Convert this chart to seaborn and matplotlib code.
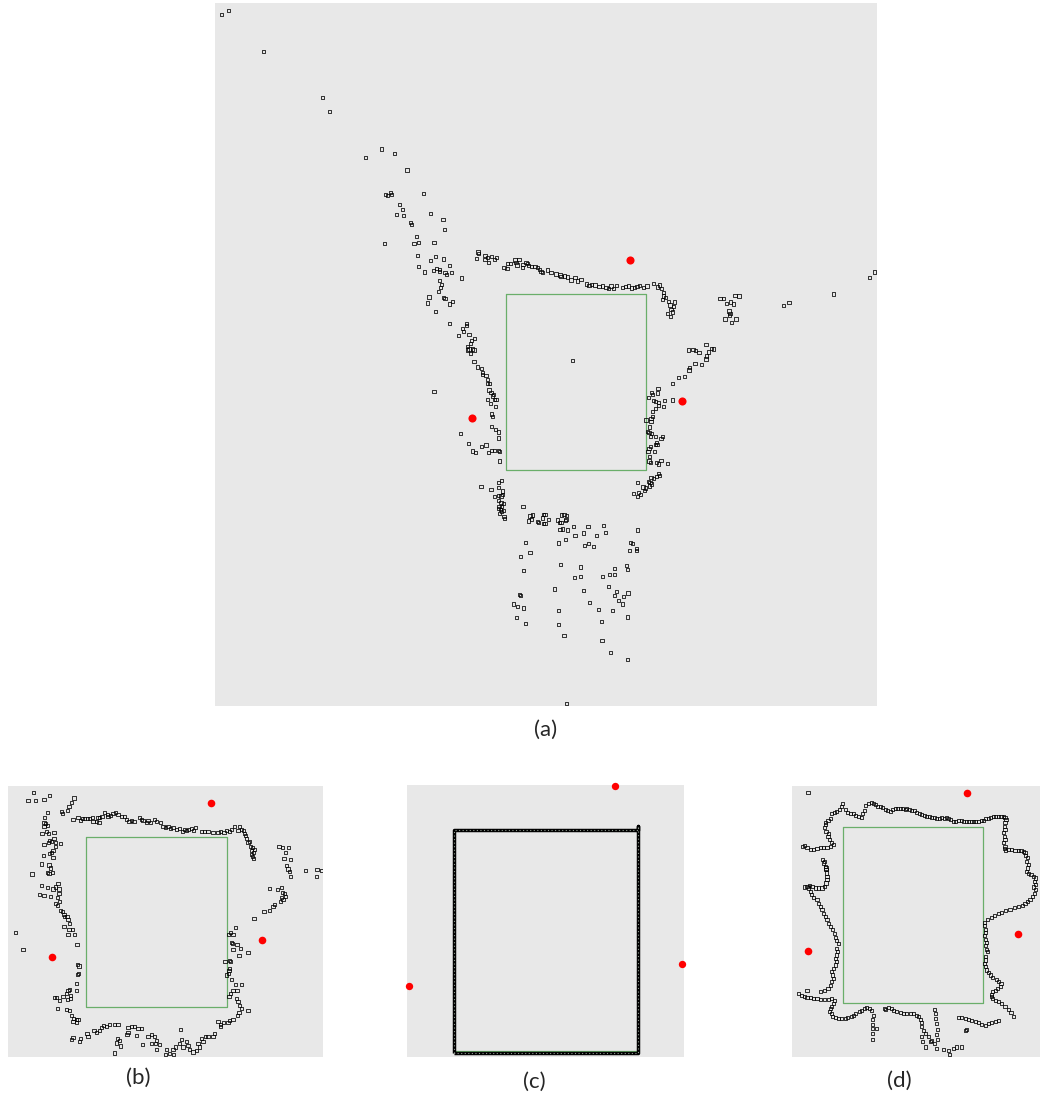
import numpy as np
import pandas as pd
import matplotlib
matplotlib.use("Agg")
import matplotlib.pyplot as plt
import seaborn as sns

sns.set_style("white")
plt.rcParams["font.family"] = ["Lato", "DejaVu Sans"]

# ---------------- map (a): laser returns, landmarks, robot footprint ----------------
a_arm = [(221.7, 14.7), (228.3, 10.3), (263.3, 51.3), (322.3, 97.3), (329.3, 111.3), (381.7, 149), (394.3, 153.3),
         (365.3, 157.3), (407, 170), (385.7, 194.3), (387.7, 195.3), (390.3, 192.7), (391.7, 194.7), (423.3, 193.3),
         (399.3, 204.3), (402.3, 209.3), (396.3, 214.3), (403.3, 215.3), (430.3, 213.3), (443, 219.3), (410.3, 222.7),
         (411.3, 224.3), (444.3, 229.3), (416.7, 236.7), (414, 243.3), (418.3, 242.7), (434, 242.3), (384.3, 243.7),
         (417.3, 255.7), (435.7, 256.3), (430.3, 260.3), (443.3, 259), (418.3, 266.7), (424.3, 272), (433.3, 270.3),
         (436.7, 268.3), (439.3, 269.3), (439.3, 271.7), (445, 272.3), (446.3, 274.7), (449.3, 265.3), (451.3, 272.3),
         (461.3, 278), (439.3, 280.3), (441.3, 284.3), (440.3, 287.3), (438.3, 291.3), (429, 297), (443.7, 297.7),
         (445, 298.3), (427.3, 303), (452.3, 301.7), (449.7, 304), (435.7, 311.3), (449.3, 323.3), (466.3, 323.3),
         (466.3, 325.3), (462.3, 328.3), (463.3, 331.7), (458.3, 335.3), (469, 334.3), (474.3, 338.3), (471.7, 340.7),
         (470.3, 343.3), (467.3, 346.7), (469, 349), (472.3, 349)]
a_top = [(478, 252), (478.3, 253.3), (476.3, 258.7), (485, 255.3), (487.7, 257.3), (485, 259.7), (488.3, 262.7),
         (491.7, 256.7), (494.3, 259.3), (496.7, 257.7), (504, 267.3), (507, 268.7), (507.3, 263.3), (510.3, 263.3),
         (515, 260), (516, 262.3), (517, 265), (519, 259.7), (522.3, 267.7), (523, 264.3), (526, 262.3), (527.3, 263.3),
         (528.3, 265.7), (531.7, 266.7), (535, 266.7), (537.7, 267.3), (539.3, 269.3), (541, 271.7), (542.7, 272.7),
         (547.3, 270), (551, 272.7), (556, 274), (560, 275), (561, 276.7), (564.3, 276), (567.3, 277), (571, 280),
         (575, 277.3), (577.3, 281), (581, 279.3), (586.7, 284), (589, 285.7), (591.7, 284.3), (595, 285), (599, 286.7),
         (602.3, 286), (606, 287.3), (608.3, 288.7), (611, 286), (613.3, 288.7), (616.7, 285.3), (622.3, 287.3),
         (625.7, 286.3), (628.3, 286), (631.7, 288), (634.3, 287.3), (637, 286.7), (639.3, 285.7), (643.3, 287.3),
         (647, 286), (653.3, 283.3), (657.7, 287), (659.7, 285), (661.7, 288.3), (663.7, 292.7), (663.3, 296),
         (662.3, 299.3), (665.7, 297.3), (668.3, 301.7), (670, 305), (674.3, 302), (673.7, 306.7), (671, 309.3),
         (672.7, 312), (667.7, 313.3), (670.7, 316.7)]
a_east = [(720, 298.3), (723.3, 298.3), (735, 295.3), (739, 296), (726.7, 303.3), (730.3, 302), (733.3, 304),
          (729, 311), (730, 313.3), (729.3, 315.3), (725, 319), (736, 319), (731.7, 322.7), (783.3, 305.7),
          (789, 302.3), (833.7, 294), (869.3, 277.3), (874.3, 272), (688.3, 350), (693, 349.3), (706, 344.3),
          (711.7, 348.3), (713.3, 349), (695.3, 350.7), (699, 352.3), (708.3, 352), (706.7, 356), (706, 359),
          (701.3, 364.3), (695, 363.3), (689.3, 367.3), (689, 370), (684.3, 376.3), (678.7, 377.3), (672.3, 383.7)]
a_right = [(658, 388.7), (657.3, 393), (651.3, 392.3), (652.3, 394.7), (648.3, 397.3), (653.3, 400.7), (655.7, 401.7),
           (658.3, 402.7), (658.3, 405.3), (664.3, 400.3), (672.3, 400), (663.3, 406.7), (655.3, 408.7), (652.7, 411.3),
           (652.3, 416.7), (651, 418.7), (646, 420), (651, 421.7), (649.3, 427), (647.3, 431.3), (649, 432.7),
           (651.3, 433.3), (650.3, 436.7), (655.7, 436.3), (661, 438.3), (662.3, 436.3), (656.3, 442.3), (655.3, 444.3),
           (657, 444.3), (650.7, 446.7), (649, 448.7), (648, 451.3), (654.3, 451.3), (649.3, 456.3), (649, 461),
           (650.3, 462.3), (656.3, 462.7), (658.3, 464), (661, 460.3), (667.3, 463.7), (658.3, 473.3), (659.3, 475.3),
           (656.7, 476.7), (651, 477.3), (653.3, 478.7), (648.3, 481.3), (650, 482.3), (651.7, 484), (649.3, 486),
           (637.3, 482.3), (643, 487), (645.7, 488), (644.3, 490.3), (638.3, 492.3), (640.7, 494.3), (633.3, 493.7),
           (637.7, 496.3)]
a_left = [(467.3, 350), (470.3, 353.3), (474, 350), (474, 361.3), (477.3, 367), (481.7, 368.7), (482.3, 372.7),
          (482.3, 374.3), (486, 375.7), (487.3, 379.7), (487.7, 383.3), (489.3, 383.3), (489, 390), (491, 392.3),
          (493.3, 394.3), (492.7, 396), (494.3, 399.3), (496, 399.3), (487.3, 399.3), (490.3, 403.7), (495.3, 406.7),
          (434, 391.7), (491.7, 414), (492.3, 416.7), (491.3, 426.3), (495.3, 429.7), (498.3, 432), (498.3, 438),
          (460.7, 433.3), (468.7, 443.7), (486, 445), (481.3, 446.3), (472.7, 451), (475.7, 452.3), (488.3, 452.3),
          (491.7, 450.3), (494.3, 450.3), (498.3, 450.3), (499.7, 451.3), (499.3, 461), (501.3, 480.3), (498.3, 482.7),
          (481, 486.3), (498.3, 487.3), (491, 489.7), (502.3, 491), (502.3, 494.3), (498.3, 495.3), (501, 496),
          (494.3, 496.3), (498.7, 500.7), (501, 502.3), (503.7, 503.3), (499, 506.7), (501.7, 506.7), (498.3, 508.7),
          (500.3, 509.3), (503.3, 510.7), (501.7, 511.7), (499.3, 513.3), (504, 516.7), (504.7, 518.3)]
a_south = [(523, 506.3), (530, 516), (532.7, 515), (531.7, 519), (528.7, 521), (537.3, 521.3), (538.3, 522.7),
           (542.7, 518), (543.7, 514.3), (543.3, 523.3), (525.3, 542.7), (530, 552.3), (520.7, 556.3), (523.3, 570.3),
           (519.3, 594.7), (520.7, 595.3), (513.7, 604), (517.3, 606.3), (523.3, 608), (516.3, 617.3), (525.3, 623.3),
           (545, 514.3), (545, 523.3), (548.3, 519.7), (561.3, 515), (564, 514.3), (566.7, 515.3), (557.3, 520),
           (559.3, 522.3), (561, 522.3), (566, 519.3), (565.3, 520.7), (560, 529.3), (562.3, 529), (567.3, 530),
           (573.3, 526.3), (588, 526.3), (603.3, 525.3), (583.3, 533), (575, 535.7), (596.7, 535.3), (605.3, 532.3),
           (637.7, 530), (558.3, 543), (565.3, 539.3), (584.3, 545.3), (588.3, 543.3), (593.3, 546.3), (630.3, 542.7),
           (632.3, 543.7), (629.3, 550.3), (636.3, 548.7), (636.3, 550.7), (560.3, 564.3), (580.3, 567), (626.7, 565.3),
           (627.3, 569.3), (614.3, 568.7), (574.3, 577.3), (580.3, 576.3), (602.3, 576.3), (609.3, 574.3),
           (614.3, 574.3), (554.3, 589), (583.3, 590.3), (608.3, 586.3), (616.3, 591.7), (614.3, 595.3), (623.3, 596.7),
           (628, 593), (618.3, 600.3), (622.3, 604), (589.3, 602.3), (598.3, 609.3), (612.3, 610.3), (558.3, 610.7),
           (627.3, 617), (601.3, 621.7), (558.3, 624.3), (564, 635.3), (602, 640.7), (610.3, 652.3), (627.3, 659.3),
           (566.7, 703.3), (572.3, 360.3)]
a_landmarks = [(630.3, 260.3), (681.7, 401), (471.7, 418.3)]
a_robot = [(506, 294), (646, 294), (646, 470), (506, 470), (506, 294)]

# ---------------- map (b) ----------------
b_scan = [(101, 40), (85, 63), (108, 64), (133, 60), (150, 48), (223, 56), (215, 68), (208, 80), (203, 92), (185, 96),
          (188, 103), (143, 98), (135, 115), (133, 130), (138, 133), (143, 137), (133, 140), (140, 155), (127, 162),
          (147, 163), (163, 160), (150, 183), (147, 188), (155, 185), (163, 178), (133, 195), (167, 190), (182, 193),
          (168, 200), (160, 212), (155, 218), (150, 222), (132, 228), (160, 233), (125, 253), (148, 256), (153, 265),
          (143, 278), (148, 282), (158, 278), (97, 283), (175, 312), (125, 318), (143, 323), (160, 328), (168, 322),
          (178, 328), (120, 343), (133, 347), (153, 349), (178, 340), (173, 352), (180, 365), (168, 370), (173, 378),
          (182, 392), (188, 395), (193, 405), (195, 410), (202, 410), (205, 418), (210, 430), (193, 440), (208, 448),
          (218, 450), (225, 465), (205, 465), (232, 493), (47, 458), (70, 508), (233, 553), (238, 558), (237, 580),
          (233, 583), (230, 610), (230, 632), (210, 628), (205, 632), (200, 640), (213, 645), (190, 648), (213, 655),
          (165, 651), (170, 652), (180, 662), (203, 657), (173, 686), (200, 687), (210, 690), (215, 707), (222, 715),
          (230, 718), (220, 725), (230, 728), (235, 718),
          (220, 120), (235, 113), (243, 122), (248, 118), (255, 117), (263, 117), (270, 118), (278, 113), (280, 125),
          (290, 127), (298, 128), (295, 115), (300, 113), (307, 110), (315, 100), (323, 105), (325, 112), (333, 108),
          (340, 103), (348, 100), (355, 104), (365, 110), (375, 112), (380, 120), (388, 125), (395, 122), (403, 127),
          (420, 115), (425, 120), (430, 123), (440, 128), (445, 122), (453, 128), (465, 120), (470, 125), (483, 130),
          (490, 140), (497, 143), (505, 142), (512, 148), (520, 143), (530, 150), (540, 148), (548, 155), (555, 150),
          (560, 153), (567, 150), (575, 148), (582, 152), (587, 145), (605, 157), (615, 155), (625, 155), (640, 158),
          (655, 160), (663, 155), (673, 158), (680, 153), (690, 157), (695, 150), (705, 140), (715, 152), (720, 140),
          (725, 150), (732, 153), (735, 163), (738, 168), (740, 178), (745, 188), (750, 185), (752, 200), (758, 205),
          (755, 212), (762, 218), (755, 225), (758, 232), (762, 238), (765, 210),
          (838, 200), (848, 203), (866, 205), (858, 220), (853, 238), (873, 240), (860, 258), (865, 268), (870, 275),
          (873, 290), (918, 272), (952, 270), (965, 273), (950, 290), (810, 327), (833, 330), (846, 324), (848, 338),
          (855, 340), (858, 350), (846, 352), (850, 358), (843, 365), (825, 375), (820, 380), (810, 393), (793, 395),
          (763, 415),
          (708, 443), (693, 458), (686, 463), (700, 465), (695, 488), (698, 492), (712, 495), (722, 505), (700, 510),
          (745, 517), (718, 527), (690, 542), (676, 545), (693, 545), (690, 565), (688, 572), (686, 580), (680, 585),
          (695, 598), (708, 612), (725, 612), (700, 630), (712, 632), (692, 640), (688, 648), (710, 655), (715, 665),
          (720, 675), (725, 684), (745, 692), (718, 696), (713, 705), (700, 717), (690, 722), (685, 727), (672, 727),
          (663, 733), (655, 724), (662, 740), (645, 760), (640, 768), (625, 768), (618, 770), (605, 775), (610, 785),
          (595, 790), (600, 800), (590, 810), (580, 815), (570, 808), (565, 795), (560, 785), (545, 778), (540, 790),
          (550, 800), (527, 800), (520, 808), (500, 808), (510, 820), (522, 823), (498, 823), (480, 793), (470, 780),
          (465, 770), (455, 762), (445, 770), (455, 790), (428, 793), (410, 765), (415, 745), (425, 745), (405, 738),
          (395, 738), (385, 742), (385, 758), (382, 763), (360, 782), (350, 788), (353, 775), (345, 818), (362, 797),
          (300, 750), (305, 742), (312, 735), (320, 738), (330, 733), (345, 733), (355, 733), (290, 757), (283, 752),
          (262, 760), (265, 768), (242, 775), (240, 783), (220, 772), (215, 778), (543, 748), (470, 808), (468, 790)]
b_landmarks = [(634, 72), (788, 481), (157, 531)]
b_robot = [(260, 173), (681, 173), (681, 682), (260, 682), (260, 173)]

# ---------------- map (c) ----------------
c_scan = [(162, 818), (162, 155), (713, 155), (713, 143), (713, 818), (162, 818)]
c_landmarks = [(646, 22), (845, 552), (27, 619)]
c_robot = [(162, 155), (713, 155), (713, 812), (162, 812), (162, 155)]

# ---------------- map (d) ----------------
d_scan = [(68, 40), (120, 128), (128, 122), (135, 118), (140, 102), (148, 98), (155, 95), (163, 90), (168, 80),
          (172, 73), (180, 90), (188, 98), (195, 103), (205, 103), (212, 107), (220, 110), (228, 113), (232, 103),
          (238, 92), (242, 78), (250, 72), (258, 70), (265, 72), (270, 75), (278, 82), (287, 80), (293, 85), (300, 90),
          (308, 93), (315, 97), (322, 90), (330, 88), (338, 87), (345, 87), (352, 88), (360, 90), (365, 87), (372, 90),
          (380, 93), (388, 93), (395, 100), (402, 103), (410, 105), (418, 107), (425, 110), (432, 112), (440, 115),
          (448, 115), (455, 117), (463, 118), (470, 115), (478, 117), (485, 113), (490, 118), (497, 120), (505, 125),
          (512, 125), (520, 122), (528, 123), (535, 125), (543, 125), (550, 125), (558, 127), (565, 127), (572, 125),
          (580, 125), (588, 123), (595, 122), (602, 117), (610, 117), (617, 115), (625, 112), (632, 112), (640, 110),
          (648, 110), (655, 110), (660, 113), (663, 120), (660, 130), (658, 140), (660, 150), (655, 160), (658, 170),
          (660, 180), (655, 190), (660, 200), (658, 208), (662, 213), (670, 210), (680, 210), (690, 212), (700, 212),
          (708, 212), (715, 215), (720, 220), (722, 228), (728, 235), (725, 245), (730, 255), (728, 265), (725, 275),
          (730, 282), (738, 285), (745, 290), (752, 295), (748, 305), (752, 315), (745, 322), (752, 330), (748, 340),
          (742, 350), (735, 358), (728, 365), (720, 370), (712, 378), (700, 380), (688, 383), (675, 388), (662, 392),
          (650, 397), (640, 402), (628, 407), (618, 412), (607, 420), (598, 428), (598, 438), (600, 448), (602, 458),
          (598, 468), (600, 478), (603, 488), (600, 498), (605, 508), (608, 515), (600, 530), (602, 540), (598, 550),
          (600, 560), (605, 570), (610, 578), (615, 585), (622, 593), (635, 598), (640, 605), (648, 610), (645, 620),
          (638, 625), (630, 630), (622, 635), (618, 642), (620, 650), (622, 655), (630, 660), (640, 665), (650, 670),
          (660, 678), (670, 688), (678, 698), (685, 710),
          (520, 712), (530, 713), (540, 715), (550, 718), (560, 720), (570, 725), (580, 728), (590, 732), (600, 735),
          (610, 730), (620, 728), (630, 725), (640, 722), (545, 748), (540, 752),
          (448, 688), (450, 700), (452, 715), (455, 730), (458, 748), (455, 762), (458, 778), (448, 790), (440, 780),
          (430, 770), (420, 760), (415, 752), (410, 740), (408, 728), (405, 718), (400, 710), (393, 705), (385, 700),
          (375, 700), (365, 700), (355, 700), (345, 698), (335, 695), (325, 690), (318, 685), (310, 683), (302, 688),
          (298, 685), (410, 770), (412, 785), (420, 800), (435, 785), (455, 805), (475, 808), (490, 810), (492, 822),
          (505, 805), (515, 800), (528, 800),
          (265, 705), (263, 718), (262, 732), (262, 745), (262, 760), (262, 778), (275, 745),
          (260, 690), (252, 685), (245, 683), (238, 685), (230, 690), (222, 695), (212, 700), (205, 705), (198, 710),
          (188, 712), (180, 715), (170, 715), (160, 715), (150, 712), (142, 708), (138, 700), (132, 695), (135, 685),
          (140, 678), (145, 670), (148, 660), (140, 655), (130, 658), (118, 658), (105, 658), (95, 655), (85, 655),
          (75, 652), (65, 652), (58, 648), (48, 645), (40, 640),
          (65, 630), (105, 635), (118, 632), (128, 625), (135, 615), (140, 605), (145, 595), (142, 585), (140, 575),
          (145, 565), (150, 555), (155, 545), (152, 535), (155, 525), (158, 515), (155, 505), (160, 492), (155, 482),
          (150, 472), (148, 460), (142, 450), (135, 440), (130, 432), (125, 420), (120, 410), (115, 400), (110, 390),
          (105, 380), (100, 370), (95, 360), (85, 352), (78, 345), (75, 335), (70, 325), (65, 320), (58, 322),
          (72, 318), (80, 320), (90, 325), (100, 325), (110, 325), (118, 320), (122, 310), (125, 300), (125, 290),
          (123, 280), (122, 270), (120, 260), (115, 250), (112, 240), (118, 245), (122, 265),
          (52, 200), (58, 198), (65, 205), (75, 210), (85, 210), (95, 207), (105, 205), (115, 205), (125, 203),
          (135, 200), (145, 195), (140, 188), (133, 180), (128, 172), (130, 162), (122, 155), (118, 145), (120, 135)]
d_landmarks = [(545, 40), (698, 463), (68, 513)]
d_robot = [(173, 143), (593, 143), (593, 670), (173, 670), (173, 143)]

BG = "#e8e8e8"
GREEN = "#6aae6a"
W, H = 1040, 1099

fig = plt.figure(figsize=(W / 100, H / 100), dpi=100)


def frame(px_left, px_top, px_right, px_bottom):
    ax = fig.add_axes([px_left / W, 1 - px_bottom / H, (px_right - px_left) / W, (px_bottom - px_top) / H])
    ax.set_facecolor(BG)
    for s in ax.spines.values():
        s.set_visible(False)
    ax.set_xticks([])
    ax.set_yticks([])
    return ax


def to_df(points):
    return pd.DataFrame(points, columns=["x", "y"])


def draw(ax, scan, landmarks, robot, xlim, ylim, scan_size=5, lm_size=30, scan_as_path=False):
    r = to_df(robot)
    ax.plot(r["x"], r["y"], color=GREEN, lw=0.9, zorder=1)
    s = to_df(scan)
    if scan_as_path:
        ax.plot(s["x"], s["y"], color="black", lw=2.5, solid_capstyle="butt", zorder=2)
        ax.plot(s["x"], s["y"], color="#8f9a8f", lw=0.8, linestyle=(0, (1.0, 2.2)), zorder=3)
    else:
        sns.scatterplot(data=s, x="x", y="y", ax=ax, marker="s", s=scan_size, facecolor="none",
                        edgecolor="black", linewidth=0.55, zorder=2)
    lm = to_df(landmarks)
    sns.scatterplot(data=lm, x="x", y="y", ax=ax, color="red", s=lm_size, linewidth=0, zorder=4, clip_on=False)
    ax.set_xlim(*xlim)
    ax.set_ylim(*ylim)
    ax.set_xlabel("")
    ax.set_ylabel("")


ax_a = frame(215, 3, 877, 706)
draw(ax_a, a_arm + a_top + a_east + a_right + a_left + a_south, a_landmarks, a_robot,
     (215, 877), (706, 3), scan_size=5, lm_size=34)

ax_b = frame(8, 786, 323, 1057)
draw(ax_b, b_scan, b_landmarks, b_robot, (25, 970), (830, 20), scan_size=5, lm_size=30)

ax_c = frame(407, 785, 684, 1057)
draw(ax_c, c_scan, c_landmarks, c_robot, (22, 852), (830, 20), lm_size=28, scan_as_path=True)

ax_d = frame(792, 786, 1040, 1057)
draw(ax_d, d_scan, d_landmarks, d_robot, (20, 765), (830, 20), scan_size=5, lm_size=30)

for label, cx, cy in [("(a)", 546, 730), ("(b)", 138, 1078), ("(c)", 534, 1082), ("(d)", 899, 1081)]:
    fig.text(cx / W, 1 - cy / H, label, ha="center", va="center", fontsize=16)

fig.savefig("out.png", dpi=100, facecolor="white")
